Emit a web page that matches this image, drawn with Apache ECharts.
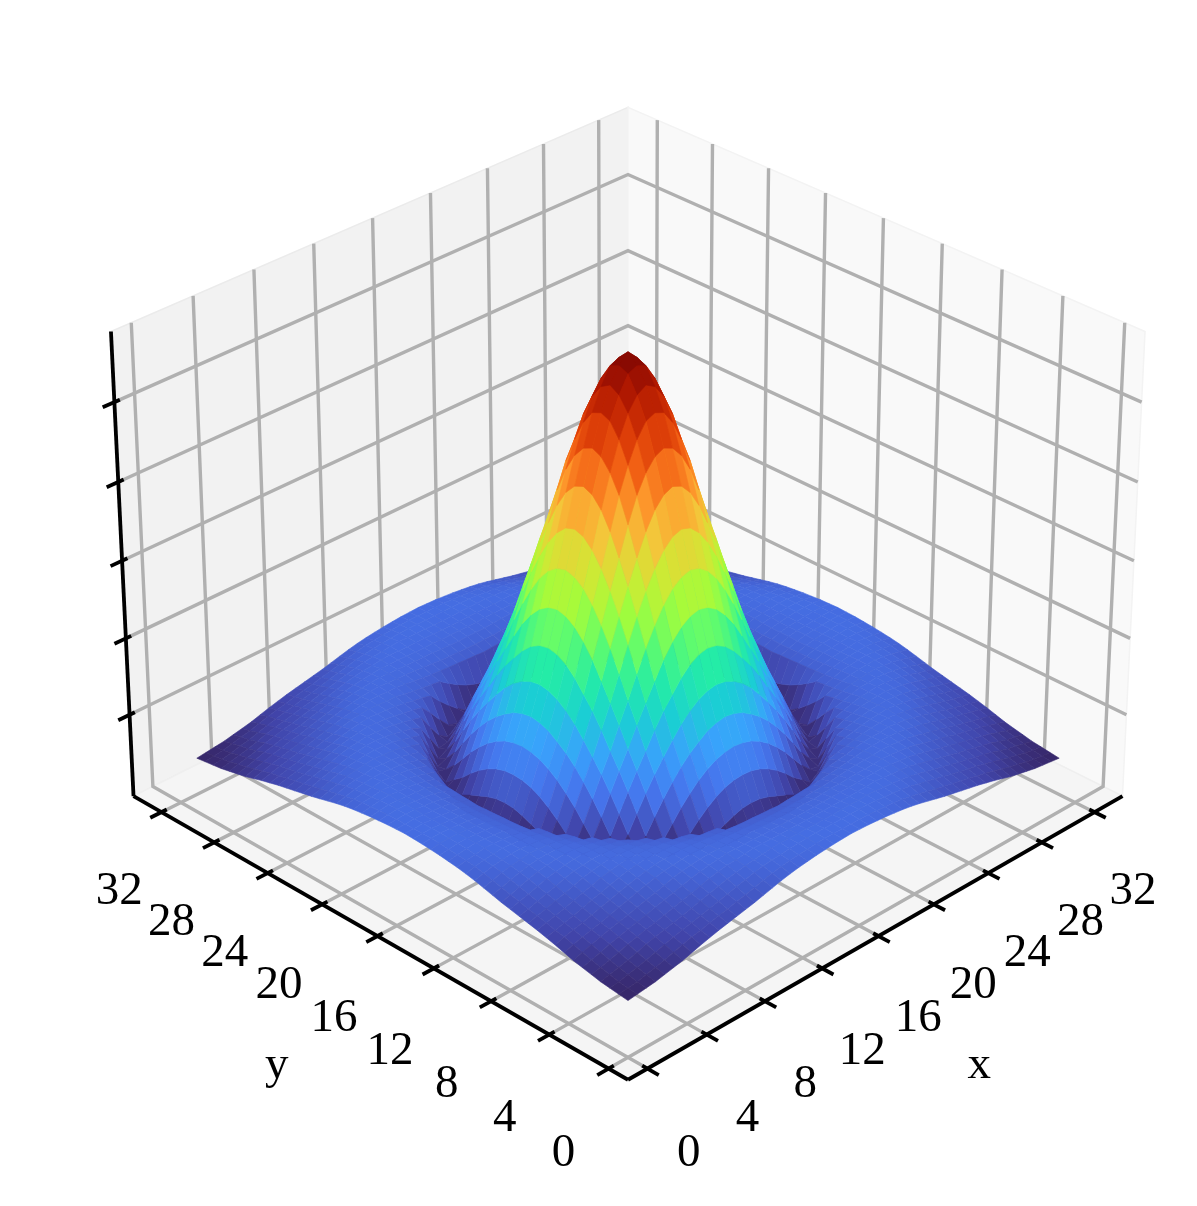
<!DOCTYPE html>
<html>
<head>
<meta charset="utf-8">
<title>surface</title>
<style>
  html, body { margin: 0; padding: 0; background: #fff; }
  #main { width: 1197px; height: 1206px; }
</style>
</head>
<body>
<div id="main"></div>
<script src="https://cdn.jsdelivr.net/npm/echarts@6/dist/echarts.min.js"></script>
<script>
const xTicks = [0, 4, 8, 12, 16, 20, 24, 28, 32];
const yTicks = [0, 4, 8, 12, 16, 20, 24, 28, 32];
const zTicks = [0, 0.2, 0.4, 0.6, 0.8];
const axisLim = [-1.3, 34.15];
const zLim = [-0.216, 0.974];
const colorRange = [-0.145, 0.924];
const turbo = ['#30123b', '#4145ab', '#4675ed', '#39a2fc', '#1bcfd4', '#24eca6', '#61fc6c', '#a4fc3b',
  '#d1e834', '#f3c63a', '#fe9b2d', '#f36315', '#d93806', '#b11901', '#7a0403'];

// sample positions, same list for x and y
const gridCoords = [1.03, 1.646, 2.262, 2.878, 3.494, 4.11, 4.726, 5.342, 5.958, 6.574, 7.19, 7.806, 8.422,
  9.038, 9.654, 10.27, 10.886, 11.502, 12.118, 12.734, 13.35, 13.966, 14.582, 15.198, 15.814, 16.43, 17.046,
  17.662, 18.278, 18.894, 19.51, 20.126, 20.742, 21.358, 21.974, 22.59, 23.206, 23.822, 24.438, 25.054, 25.67,
  26.286, 26.902, 27.518, 28.134, 28.75, 29.366, 29.982, 30.598, 31.214, 31.83];

// heights. the surface mirrors around the middle sample,
// so row = larger index distance from the middle, col = smaller one
const zRows = [
  [.924],
  [.900, .890],
  [.863, .849, .815],
  [.805, .795, .760, .707],
  [.728, .717, .688, .643, .580],
  [.643, .633, .606, .563, .508, .448],
  [.547, .539, .516, .481, .436, .383, .323],
  [.455, .448, .430, .400, .360, .313, .260, .204],
  [.366, .360, .344, .318, .284, .241, .197, .152, .103],
  [.279, .274, .260, .237, .207, .176, .139, .097, .058, .016],
  [.197, .193, .182, .165, .142, .113, .081, .048, .011, -.029, -.071],
  [.126, .122, .113, .097, .079, .056, .028, -.003, -.038, -.075, -.103, -.117],
  [.061, .058, .051, .038, .021, -.001, -.026, -.056, -.085, -.108, -.113, -.075, -.035],
  [-.001, -.003, -.010, -.022, -.038, -.058, -.081, -.099, -.119, -.102, -.068, -.031, -.025, -.020],
  [-.062, -.064, -.071, -.081, -.091, -.103, -.117, -.111, -.084, -.054, -.029, -.024, -.020, -.015, -.011],
  [-.108, -.110, -.114, -.120, -.119, -.102, -.082, -.059, -.033, -.027, -.023, -.018, -.014, -.011, -.010, -.008],
  [-.091, -.090, -.084, -.075, -.062, -.047, -.030, -.027, -.024, -.021, -.016, -.012, -.011, -.010, -.008, -.011, -.014],
  [-.033, -.031, -.030, -.028, -.027, -.025, -.023, -.020, -.017, -.014, -.011, -.010, -.009, -.009, -.011, -.015, -.020, -.026],
  [-.023, -.023, -.022, -.021, -.020, -.018, -.016, -.013, -.012, -.011, -.010, -.008, -.009, -.012, -.015, -.020, -.026, -.032, -.039],
  [-.015, -.015, -.015, -.014, -.012, -.012, -.011, -.010, -.010, -.009, -.008, -.009, -.012, -.015, -.020, -.027, -.033, -.039, -.045, -.052],
  [-.011, -.011, -.011, -.010, -.010, -.010, -.009, -.008, -.008, -.007, -.010, -.013, -.016, -.021, -.027, -.033, -.039, -.045, -.052, -.057, -.063],
  [-.008, -.009, -.008, -.008, -.008, -.008, -.007, -.006, -.008, -.011, -.013, -.016, -.022, -.028, -.034, -.040, -.046, -.052, -.058, -.063, -.069, -.075],
  [-.007, -.007, -.006, -.006, -.006, -.005, -.006, -.009, -.011, -.014, -.018, -.023, -.029, -.035, -.041, -.047, -.053, -.058, -.064, -.069, -.075, -.083, -.090],
  [-.005, -.005, -.005, -.005, -.006, -.007, -.010, -.012, -.015, -.019, -.025, -.030, -.036, -.042, -.048, -.053, -.059, -.064, -.070, -.076, -.083, -.090, -.095, -.101],
  [-.006, -.006, -.006, -.007, -.009, -.011, -.013, -.016, -.021, -.026, -.032, -.038, -.043, -.049, -.054, -.059, -.065, -.070, -.076, -.083, -.090, -.095, -.101, -.106, -.109],
  [-.006, -.007, -.008, -.010, -.012, -.015, -.018, -.022, -.027, -.033, -.039, -.045, -.050, -.055, -.060, -.065, -.071, -.077, -.084, -.091, -.096, -.101, -.106, -.109, -.112, -.115]
];

const N = gridCoords.length;
const MID = (N - 1) / 2;
function zAt(i, j) {
  const a = Math.abs(i - MID);
  const b = Math.abs(j - MID);
  return zRows[Math.max(a, b)][Math.min(a, b)];
}

// view setup, same numbers matplotlib uses for elev 30, azim -135, dist 10
const boxH = 1.1905;
const boxZ = 0.8929;
function project(x, y, z) {
  const px = ((x - axisLim[0]) / (axisLim[1] - axisLim[0]) - 0.5) * boxH;
  const py = ((y - axisLim[0]) / (axisLim[1] - axisLim[0]) - 0.5) * boxH;
  const pz = ((z - zLim[0]) / (zLim[1] - zLim[0]) - 0.5) * boxZ;
  const u = 0.70711 * (px - py);
  const v = 0.35355 * (px + py) + 0.86603 * pz;
  const d = 10 + 0.61237 * (px + py) - 0.5 * pz;
  return [u / d, v / d, d];
}

const lo = axisLim[0];
const hi = axisLim[1];
const zlo = zLim[0];
const zhi = zLim[1];

const panes = [
  { pts: [[lo, hi, zlo], [hi, hi, zlo], [hi, hi, zhi], [lo, hi, zhi]], fill: '#f2f2f2', edge: '#ebebeb' },
  { pts: [[hi, lo, zlo], [hi, hi, zlo], [hi, hi, zhi], [hi, lo, zhi]], fill: '#f9f9f9', edge: '#f3f3f3' },
  { pts: [[lo, lo, zlo], [hi, lo, zlo], [hi, hi, zlo], [lo, hi, zlo]], fill: '#f5f5f5', edge: '#efefef' }
];

const gridLines = [];
xTicks.forEach(t => gridLines.push([[t, lo, zlo], [t, hi, zlo], [t, hi, zhi]]));
yTicks.forEach(t => gridLines.push([[lo, t, zlo], [hi, t, zlo], [hi, t, zhi]]));
zTicks.forEach(t => gridLines.push([[lo, hi, t], [hi, hi, t], [hi, lo, t]]));

const axisLines = [
  [[lo, lo, zlo], [hi, lo, zlo]],
  [[lo, lo, zlo], [lo, hi, zlo]],
  [[lo, hi, zlo], [lo, hi, zhi]]
];
xTicks.forEach(t => axisLines.push([[t, lo + 0.35, zlo], [t, lo - 0.75, zlo]]));
yTicks.forEach(t => axisLines.push([[lo + 0.35, t, zlo], [lo - 0.75, t, zlo]]));
zTicks.forEach(t => axisLines.push([[lo + 0.35, hi, t], [lo - 0.75, hi, t]]));

// one polygon per grid cell, painted back to front
const facets = [];
for (let i = 0; i < N - 1; i++) {
  for (let j = 0; j < N - 1; j++) {
    const cell = [[i, j], [i + 1, j], [i + 1, j + 1], [i, j + 1]];
    const pts = cell.map(c => project(gridCoords[c[0]], gridCoords[c[1]], zAt(c[0], c[1])));
    const mean = cell.reduce((s, c) => s + zAt(c[0], c[1]), 0) / 4;
    const t = (mean - colorRange[0]) / (colorRange[1] - colorRange[0]);
    facets.push({
      pts: pts,
      depth: pts.reduce((s, p) => s + p[2], 0) / 4,
      color: echarts.color.lerp(Math.max(0, Math.min(1, t)), turbo)
    });
  }
}
facets.sort((a, b) => b.depth - a.depth);

const labels = [];
xTicks.forEach(t => labels.push({ text: String(t), p: [t, lo - 2.75, zlo - 0.158] }));
yTicks.forEach(t => labels.push({ text: String(t), p: [lo - 3, t, zlo - 0.152] }));
labels.push({ text: 'x', p: [16, lo - 6.8, zlo - 0.195] });
labels.push({ text: 'y', p: [lo - 6.8, 16, zlo - 0.195] });

const scale = 6005;
const cx = 628;
const cy = 569;
const chart = echarts.init(document.getElementById('main'), null, { renderer: 'canvas' });

function custom(data, z, item) {
  return {
    type: 'custom',
    coordinateSystem: 'cartesian2d',
    silent: true,
    animation: false,
    clip: false,
    progressive: 0,
    z: z,
    data: data.map((d, i) => [i]),
    renderItem: (params, api) => item(data[params.dataIndex], api)
  };
}
const toPx = (api, p) => {
  const s = project(p[0], p[1], p[2]);
  return api.coord([s[0], s[1]]);
};

chart.setOption({
  animation: false,
  backgroundColor: '#fff',
  grid: { left: 0, right: 0, top: 0, bottom: 0 },
  xAxis: { type: 'value', show: false, min: -cx / scale, max: (1197 - cx) / scale },
  yAxis: { type: 'value', show: false, min: -(1206 - cy) / scale, max: cy / scale },
  series: [
    custom(panes, 1, (d, api) => ({
      type: 'polygon',
      shape: { points: d.pts.map(p => toPx(api, p)) },
      style: { fill: d.fill, stroke: d.edge, lineWidth: 1.5 }
    })),
    custom(gridLines, 2, (d, api) => ({
      type: 'polyline',
      shape: { points: d.map(p => toPx(api, p)) },
      style: { fill: null, stroke: '#b0b0b0', lineWidth: 3.4 }
    })),
    custom(axisLines, 3, (d, api) => ({
      type: 'polyline',
      shape: { points: d.map(p => toPx(api, p)) },
      style: { fill: null, stroke: '#000', lineWidth: 3.8 }
    })),
    custom(facets, 4, (d, api) => ({
      type: 'polygon',
      shape: { points: d.pts.map(s => api.coord([s[0], s[1]])) },
      style: { fill: d.color, stroke: d.color, lineWidth: 0.6 }
    })),
    custom(labels, 5, (d, api) => {
      const q = toPx(api, d.p);
      return {
        type: 'text',
        style: {
          text: d.text,
          x: q[0],
          y: q[1],
          fill: '#000',
          fontSize: 47,
          fontFamily: 'Liberation Serif',
          align: 'center',
          verticalAlign: 'middle'
        }
      };
    })
  ]
});
</script>
</body>
</html>
